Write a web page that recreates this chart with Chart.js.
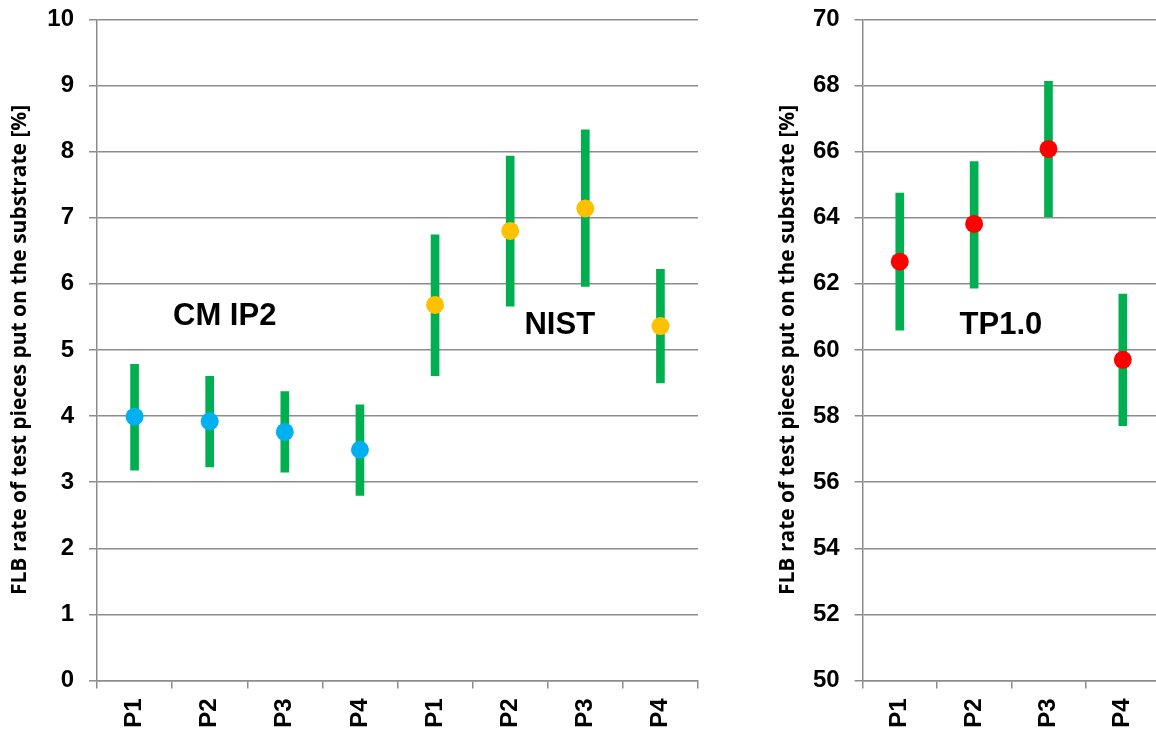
<!DOCTYPE html>
<html>
<head>
<meta charset="utf-8">
<script src="https://cdn.jsdelivr.net/npm/chart.js@4"></script>
<style>
  body { margin: 0; background: #fff; overflow: hidden; }
  #wrap { position: relative; width: 1156px; height: 733px; overflow: hidden; }
  .box { position: absolute; top: 0; height: 733px; }
  #leftBox { left: 0; width: 707px; }
  #rightBox { left: 768px; width: 401px; }
</style>
</head>
<body>
<div id="wrap">
  <div class="box" id="leftBox"><canvas id="leftChart"></canvas></div>
  <div class="box" id="rightBox"><canvas id="rightChart"></canvas></div>
</div>
<script>
// left panel: CM IP2 (first four) and NIST (last four)
const leftCategories = ["P1", "P2", "P3", "P4", "P1", "P2", "P3", "P4"];
const cmMean = [3.99, 3.92, 3.76, 3.49];
const cmLow = [3.18, 3.23, 3.15, 2.80];
const cmHigh = [4.78, 4.60, 4.37, 4.17];
const nistMean = [5.68, 6.80, 7.14, 5.36];
const nistLow = [4.61, 5.66, 5.96, 4.50];
const nistHigh = [6.74, 7.93, 8.33, 6.22];

// right panel: TP1.0
const tpCategories = ["P1", "P2", "P3", "P4"];
const tpMean = [62.67, 63.81, 66.08, 59.70];
const tpLow = [60.60, 61.87, 64.03, 57.71];
const tpHigh = [64.74, 65.70, 68.12, 61.69];

const leftRange = { min: 0, max: 10, step: 1 };
const rightRange = { min: 50, max: 70, step: 2 };
const groupNames = ["CM IP2", "NIST", "TP1.0"];
const yTitle = "FLB rate of test pieces put on the substrate [%]";

const GRID = "#8c8c8c";
const BAR_GREEN = "#00B050";
const tickFont = { family: "'Liberation Sans', Arial, sans-serif", size: 24, weight: "bold" };

// text labels placed through the chart's own scales
const groupLabels = {
  id: "groupLabels",
  afterDatasetsDraw(chart, args, opts) {
    const { ctx } = chart;
    const x = chart.scales.x;
    const y = chart.scales.y;
    ctx.save();
    ctx.font = "bold 31px 'Liberation Sans', Arial, sans-serif";
    ctx.fillStyle = "#000";
    ctx.textAlign = "center";
    ctx.textBaseline = "middle";
    (opts.items || []).forEach((it) => {
      ctx.fillText(it.text, x.getPixelForValue(it.at), y.getPixelForValue(it.value));
    });
    ctx.restore();
  },
};

function makeOptions(range, yWidth, padding, labels) {
  return {
    responsive: true,
    maintainAspectRatio: false,
    animation: false,
    layout: { padding: padding },
    plugins: {
      legend: { display: false },
      tooltip: { enabled: false },
      groupLabels: { items: labels },
    },
    scales: {
      x: {
        offset: true,
        grid: {
          offset: true,
          drawOnChartArea: false,
          drawTicks: true,
          tickLength: 8,
          color: GRID,
          lineWidth: 1.5,
        },
        border: { display: true, color: GRID, width: 1.5 },
        ticks: {
          color: "#000",
          font: tickFont,
          minRotation: 90,
          maxRotation: 90,
          padding: 10,
        },
        afterFit: (s) => { s.height = 52.5; },
      },
      y: {
        min: range.min,
        max: range.max,
        grid: { color: GRID, lineWidth: 1.5, tickLength: 8 },
        border: { display: true, color: GRID, width: 1.5 },
        ticks: { stepSize: range.step, color: "#000", font: tickFont, padding: 15 },
        title: {
          display: true,
          text: yTitle,
          color: "#000",
          font: { family: "'Open Sans', sans-serif", size: 21, weight: "bold" },
          padding: { top: 7, bottom: 0 },
        },
        afterFit: (s) => {
          s.width = yWidth;
          s.paddingTop = 0;
          s.paddingBottom = 0;
        },
      },
    },
  };
}

const pad4 = [null, null, null, null];

new Chart(document.getElementById("leftChart"), {
  type: "bar",
  data: {
    labels: leftCategories,
    datasets: [
      {
        type: "line",
        data: [...cmMean, ...pad4],
        showLine: false,
        pointRadius: 9,
        pointBorderWidth: 0,
        pointBackgroundColor: "#00B0F0",
        order: 1,
      },
      {
        type: "line",
        data: [...pad4, ...nistMean],
        showLine: false,
        pointRadius: 9,
        pointBorderWidth: 0,
        pointBackgroundColor: "#FFC000",
        order: 1,
      },
      {
        type: "bar",
        data: [
          ...cmLow.map((v, i) => [v, cmHigh[i]]),
          ...nistLow.map((v, i) => [v, nistHigh[i]]),
        ],
        backgroundColor: BAR_GREEN,
        borderWidth: 0,
        barThickness: 8,
        order: 2,
      },
    ],
  },
  options: makeOptions(leftRange, 97, { top: 19.3, right: 3, bottom: 0, left: 0 }, [
    { text: groupNames[0], at: 1.2, value: 5.5 },
    { text: groupNames[1], at: 5.66, value: 5.37 },
  ]),
  plugins: [groupLabels],
});

new Chart(document.getElementById("rightChart"), {
  type: "bar",
  data: {
    labels: tpCategories,
    datasets: [
      {
        type: "line",
        data: tpMean,
        showLine: false,
        pointRadius: 9,
        pointBorderWidth: 0,
        pointBackgroundColor: "#FF0000",
        order: 1,
      },
      {
        type: "bar",
        data: tpLow.map((v, i) => [v, tpHigh[i]]),
        backgroundColor: BAR_GREEN,
        borderWidth: 0,
        barThickness: 8,
        order: 2,
      },
    ],
  },
  options: makeOptions(rightRange, 94.6, { top: 19.3, right: 0, bottom: 0, left: 0 }, [
    { text: groupNames[2], at: 1.36, value: 60.75 },
  ]),
  plugins: [groupLabels],
});
</script>
</body>
</html>
